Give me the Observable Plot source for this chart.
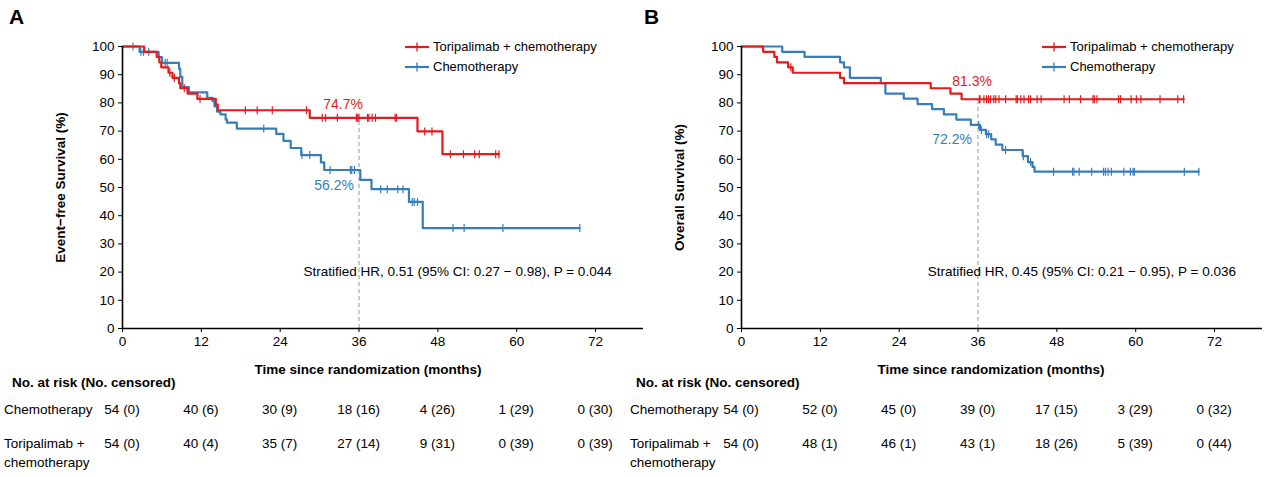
<!DOCTYPE html>
<html><head><meta charset="utf-8">
<script src="https://cdn.jsdelivr.net/npm/d3@7"></script>
<script src="https://cdn.jsdelivr.net/npm/@observablehq/plot@0.6"></script>
<style>
body{margin:0;background:#fff;font-family:"Liberation Sans",Arial,sans-serif;}
#root{position:relative;width:1269px;height:477px;overflow:hidden;background:#fff;}
.abs{position:absolute;white-space:nowrap;color:#000;line-height:1;}
</style></head><body><div id="root"></div>
<script>
// ---------- data ----------
const xTicks = [0, 12, 24, 36, 48, 60, 72];
const yTicks = [0, 10, 20, 30, 40, 50, 60, 70, 80, 90, 100];
const groups = ["Toripalimab + chemotherapy", "Chemotherapy"];
const landmark = 36;

// Panel A: event-free survival
const efsToriT = [0, 3.3, 5.2, 5.6, 5.9, 7.0, 7.6, 8.6, 8.8, 9.9, 11.4, 14.2, 14.5, 28.5, 44.9, 48.7, 57.3];
const efsToriS = [100, 98.1, 96.3, 94.4, 92.6, 90.7, 88.9, 87.0, 85.2, 83.3, 81.4, 79.4, 77.4, 74.7, 69.9, 61.8, 61.8];
const efsToriC = [7.2, 7.9, 9.4, 11.8, 18.7, 20.5, 22.8, 28.0, 30.4, 30.9, 32.7, 35.6, 35.8, 36.0, 37.3, 37.5, 38.0, 38.5, 41.5, 41.7, 46.0, 47.1, 49.9, 51.9, 53.6, 54.3, 56.8, 57.3];
const efsChemoT = [0, 2.6, 5.5, 6.0, 8.6, 8.8, 9.1, 10.1, 12.9, 13.7, 14.0, 14.4, 14.9, 15.7, 15.9, 17.4, 23.4, 24.5, 25.6, 27.2, 30.2, 30.7, 36.2, 37.9, 43.6, 45.7, 69.6];
const efsChemoS = [100, 98.1, 96.2, 94.2, 92.1, 89.2, 85.6, 83.7, 81.8, 80.6, 78.8, 76.9, 75.9, 74.1, 73.0, 70.9, 69.0, 66.5, 64.0, 61.5, 58.9, 56.2, 52.7, 49.4, 44.9, 35.6, 35.6];
const efsChemoC = [1.6, 2.8, 3.2, 4.0, 6.5, 6.8, 21.5, 27.3, 28.5, 31.6, 34.7, 34.9, 35.3, 39.3, 40.3, 41.9, 42.7, 44.1, 44.4, 44.9, 50.3, 52.0, 57.9, 69.6];
const efsLandTori = 74.7, efsLandChemo = 56.2;
const efsHR = "Stratified HR, 0.51 (95% CI: 0.27 − 0.98), P = 0.044";
const efsRiskChemo = ["54 (0)", "40 (6)", "30 (9)", "18 (16)", "4 (26)", "1 (29)", "0 (30)"];
const efsRiskTori = ["54 (0)", "40 (4)", "35 (7)", "27 (14)", "9 (31)", "0 (39)", "0 (39)"];

// Panel B: overall survival
const osToriT = [0, 3.3, 5.0, 5.4, 7.1, 7.8, 15.0, 15.6, 28.8, 31.8, 33.5, 67.3];
const osToriS = [100, 98.1, 96.3, 94.4, 92.6, 90.7, 88.9, 87.0, 85.2, 83.3, 81.3, 81.3];
const osToriC = [7.5, 36.2, 36.3, 36.9, 37.3, 37.6, 37.9, 38.4, 38.7, 39.2, 40.2, 41.8, 42.0, 42.5, 43.0, 43.7, 44.0, 45.0, 45.6, 49.1, 49.9, 51.6, 53.5, 53.7, 54.1, 57.4, 57.7, 59.3, 60.1, 60.8, 63.7, 66.4, 67.3];
const osChemoT = [0, 6.2, 9.6, 15.0, 15.6, 16.5, 21.2, 21.9, 24.7, 26.8, 29.0, 30.8, 32.7, 34.9, 36.3, 37.2, 38.0, 38.7, 39.7, 42.8, 43.6, 44.3, 44.6, 69.6];
const osChemoS = [100, 98.1, 96.3, 94.4, 92.6, 88.9, 87.0, 83.3, 81.5, 79.6, 77.8, 75.9, 74.1, 72.2, 70.4, 68.9, 67.1, 65.2, 63.3, 61.1, 59.0, 57.3, 55.6, 55.6];
const osChemoC = [36.1, 36.5, 37.3, 37.6, 40.2, 42.9, 44.0, 47.5, 50.4, 50.6, 51.4, 53.3, 55.1, 55.4, 55.8, 56.3, 58.2, 59.2, 59.6, 59.8, 67.4, 69.6];
const osLandTori = 81.3, osLandChemo = 72.2;
const osHR = "Stratified HR, 0.45 (95% CI: 0.21 − 0.95), P = 0.036";
const osRiskChemo = ["54 (0)", "52 (0)", "45 (0)", "39 (0)", "17 (15)", "3 (29)", "0 (32)"];
const osRiskTori = ["54 (0)", "48 (1)", "46 (1)", "43 (1)", "18 (26)", "5 (39)", "0 (44)"];

// ---------- helpers ----------
const FONT = '"Liberation Sans", Arial, sans-serif';
const RED = "#e41a1c", BLUE = "#377eb8";
const vbar = {draw(ctx, size) { const r = Math.sqrt(size / Math.PI); ctx.moveTo(0, -r); ctx.lineTo(0, r); }};
const steps = (T, S) => T.map((t, i) => ({t, s: S[i]}));
function survAt(T, S, t) { let v = S[0]; for (let i = 0; i < T.length; i++) if (T[i] <= t) v = S[i]; return v; }
const cens = (T, S, C) => C.map(t => ({t, s: survAt(T, S, t)}));

function panel(p) {
  return Plot.plot({
    width: 650, height: 380,
    marginLeft: 122, marginRight: 7, marginTop: 46, marginBottom: 52,
    x: {domain: [0, 79.3]},
    y: {domain: [0, 100]},
    style: {fontFamily: FONT, fontSize: "13.5px", color: "#000", background: "transparent", overflow: "visible"},
    marks: [
      Plot.ruleX([{t: landmark, s: p.landTori}], {x: "t", y1: 0, y2: "s", stroke: "#a8a8a8", strokeDasharray: "4,3", strokeWidth: 1.2}),
      Plot.line(steps(p.chemoT, p.chemoS), {x: "t", y: "s", curve: "step-after", stroke: BLUE, strokeWidth: 2.2}),
      Plot.dot(cens(p.chemoT, p.chemoS, p.chemoC), {x: "t", y: "s", symbol: vbar, r: 4, stroke: BLUE, strokeWidth: 1.2, fill: "none"}),
      Plot.line(steps(p.toriT, p.toriS), {x: "t", y: "s", curve: "step-after", stroke: RED, strokeWidth: 2.2}),
      Plot.dot(cens(p.toriT, p.toriS, p.toriC), {x: "t", y: "s", symbol: vbar, r: 4, stroke: RED, strokeWidth: 1.2, fill: "none"}),
      Plot.ruleY([0], {stroke: "#000", strokeWidth: 1.6}),
      Plot.ruleX([0], {stroke: "#000", strokeWidth: 1.6}),
      Plot.axisX({ticks: xTicks, tickSize: 4, tickPadding: 4, label: null, fontSize: 13.5}),
      Plot.axisY({ticks: yTicks, tickSize: 4, tickPadding: 4, label: null, fontSize: 13.5}),
      Plot.text([p.yTitle], {frameAnchor: "left", textAnchor: "middle", rotate: -90, dx: -62, fontWeight: "bold", fontSize: 13.5}),
      Plot.text([{t: landmark, label: "Time since randomization (months)"}], {x: "t", text: "label", frameAnchor: "bottom", dy: 45, dx: p.titleDx, fontWeight: "bold", fontSize: 13.5}),
      Plot.text([{t: landmark, s: p.landTori}], {x: "t", y: "s", text: d => d.s.toFixed(1) + "%", fill: RED, fontSize: 14, dx: p.toriLabel[0], dy: p.toriLabel[1]}),
      Plot.text([{t: landmark, s: p.landChemo}], {x: "t", y: "s", text: d => d.s.toFixed(1) + "%", fill: BLUE, fontSize: 14, dx: p.chemoLabel[0], dy: p.chemoLabel[1]}),
      Plot.text([{t: p.hrAt[0], s: p.hrAt[1], label: p.hr}], {x: "t", y: "s", text: "label", fontSize: 13.5})
    ]
  });
}

const root = document.getElementById("root");
function addDiv(html, left, top, style = "") {
  const d = document.createElement("div");
  d.className = "abs"; d.innerHTML = html;
  d.style.cssText = `left:${left}px;top:${top}px;${style}`;
  root.appendChild(d); return d;
}
function swatch(color) {
  return `<svg width="24" height="10" style="display:block"><line x1="0" y1="5" x2="24" y2="5" stroke="${color}" stroke-width="2.2"/><line x1="12" y1="0.5" x2="12" y2="9.5" stroke="${color}" stroke-width="1.3"/></svg>`;
}

const panels = [
  {left: 0, letter: "A", yTitle: "Event−free Survival (%)", toriT: efsToriT, toriS: efsToriS, toriC: efsToriC, chemoT: efsChemoT, chemoS: efsChemoS, chemoC: efsChemoC,
   landTori: efsLandTori, landChemo: efsLandChemo, hr: efsHR, hrAt: [51.0, 20], riskChemo: efsRiskChemo, riskTori: efsRiskTori,
   toriLabel: [-16, -13], chemoLabel: [-25, 15], titleDx: 9, legendLeft: 405, letterLeft: 9, headLeft: 12, rowLeft: 4},
  {left: 619, letter: "B", yTitle: "Overall Survival (%)", toriT: osToriT, toriS: osToriS, toriC: osToriC, chemoT: osChemoT, chemoS: osChemoS, chemoC: osChemoC,
   landTori: osLandTori, landChemo: osLandChemo, hr: osHR, hrAt: [51.8, 20], riskChemo: osRiskChemo, riskTori: osRiskTori,
   toriLabel: [-6, -18], chemoLabel: [-26, 15], titleDx: 13, legendLeft: 1042, letterLeft: 644, headLeft: 636, rowLeft: 630}
];

for (const p of panels) {
  const svg = panel(p);
  svg.style.position = "absolute";
  svg.style.left = p.left + "px";
  svg.style.top = "0px";
  root.appendChild(svg);
  const xs = svg.scale("x");
  addDiv(p.letter, p.letterLeft, 6, "font-size:21px;font-weight:bold;");
  const colors = [RED, BLUE];
  groups.forEach((g, i) => {
    addDiv(swatch(colors[i]), p.legendLeft, 42 + i * 20, "");
    addDiv(g, p.legendLeft + 28, 40 + i * 20, "font-size:13px;");
  });
  addDiv("No. at risk (No. censored)", p.headLeft, 376, "font-size:13.5px;font-weight:bold;");
  addDiv(groups[1], p.rowLeft, 403, "font-size:13.5px;");
  addDiv("Toripalimab +<br>chemotherapy", p.rowLeft, 434, "font-size:13.5px;line-height:19px;");
  xTicks.forEach((t, i) => {
    const cx = p.left + xs.apply(t);
    addDiv(p.riskChemo[i], cx, 403, "font-size:13.5px;transform:translateX(-50%);");
    addDiv(p.riskTori[i], cx, 434, "font-size:13.5px;transform:translateX(-50%);line-height:19px;");
  });
}
</script></body></html>
